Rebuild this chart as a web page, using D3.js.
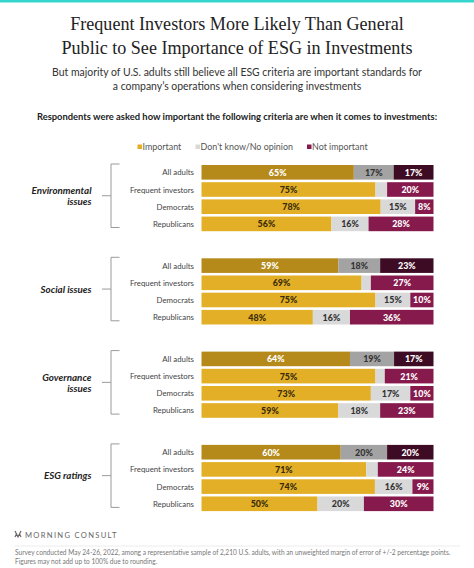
<!DOCTYPE html>
<html><head><meta charset="utf-8">
<script src="https://cdnjs.cloudflare.com/ajax/libs/d3/7.8.5/d3.min.js"></script>
<style>
html,body{margin:0;padding:0;background:#fff;}
svg{display:block;}
</style></head>
<body><div id="chart"></div>
<script>
const groups = ["Environmental issues", "Social issues", "Governance issues", "ESG ratings"];
const groupLines = [["Environmental", "issues"], ["Social issues"], ["Governance", "issues"], ["ESG ratings"]];
const respondents = ["All adults", "Frequent investors", "Democrats", "Republicans"];
const seriesNames = ["Important", "Don't know/No opinion", "Not important"];
const important  = [[65, 75, 78, 56], [59, 69, 75, 48], [64, 75, 73, 59], [60, 71, 74, 50]];
const dontKnow   = [[17, 5, 15, 16], [18, 4, 15, 16], [19, 4, 17, 18], [20, 5, 16, 20]];
const notImportant = [[17, 20, 8, 28], [23, 27, 10, 36], [17, 21, 10, 23], [20, 24, 9, 30]];

const W = 474, H = 568;
const sans = "Lato, 'Open Sans', sans-serif";
const svg = d3.select("#chart").append("svg").attr("width", W).attr("height", H);

svg.append("rect").attr("x", 0).attr("y", 0).attr("width", W).attr("height", 2.5).attr("fill", "#35d5cd");

function fitSize(fontFamily, weight, style, str, target) {
  const t = svg.append("text").attr("font-family", fontFamily).attr("font-weight", weight)
    .attr("font-style", style).attr("font-size", 20).text(str);
  const w = t.node().getComputedTextLength();
  t.remove();
  return 20 * target / w;
}

// Title
const titleSize = fitSize("'Liberation Serif', serif", 400, "normal", "Public to See Importance of ESG in Investments", 351);
svg.append("text").attr("x", W/2).attr("y", 30).attr("text-anchor", "middle")
  .attr("font-family", "'Liberation Serif', serif").attr("font-size", titleSize).attr("fill", "#222")
  .text("Frequent Investors More Likely Than General");
svg.append("text").attr("x", W/2).attr("y", 53.5).attr("text-anchor", "middle")
  .attr("font-family", "'Liberation Serif', serif").attr("font-size", titleSize).attr("fill", "#222")
  .text("Public to See Importance of ESG in Investments");

const subLine1 = "But majority of U.S. adults still believe all ESG criteria are important standards for";
const subSize = fitSize(sans, 400, "normal", subLine1, 370);
svg.append("text").attr("x", W/2).attr("y", 76).attr("text-anchor", "middle")
  .attr("font-family", sans).attr("font-size", subSize).attr("fill", "#333").text(subLine1);
svg.append("text").attr("x", W/2).attr("y", 89.5).attr("text-anchor", "middle")
  .attr("font-family", sans).attr("font-size", subSize).attr("fill", "#333")
  .text("a company\u2019s operations when considering investments");

const qText = "Respondents were asked how important the following criteria are when it comes to investments:";
svg.append("text").attr("x", W/2).attr("y", 119.5).attr("text-anchor", "middle")
  .attr("font-family", sans).attr("font-weight", 700).attr("font-size", fitSize(sans, 700, "normal", qText, 401))
  .attr("fill", "#222").text(qText);

// Legend
const legendColors = ["#e2af27", "#d9d9d9", "#861a4d"];
const legendX = [137.5, 195.5, 307];
const legendSize = fitSize(sans, 400, "normal", "Don't know/No opinion", 92.7);
seriesNames.forEach((n, i) => {
  svg.append("rect").attr("x", legendX[i]).attr("y", 144.5).attr("width", 4.5).attr("height", 4.5).attr("fill", legendColors[i]);
  svg.append("text").attr("x", legendX[i] + 5).attr("y", 150.3).attr("font-family", sans)
    .attr("font-size", legendSize).attr("fill", "#555").text(n);
});

// Scales
const x = d3.scaleLinear().domain([0, 100]).range([201.5, 433.5]);
const gy = d3.scaleBand().domain(groups).range([165, 165 + 4 * 93.3]);
const ry = d3.scaleBand().domain(respondents).range([0, 66.2]).paddingInner(0.15);

const fills = {
  all: ["#b58a1b", "#a3a3a3", "#3e0b25"],
  other: ["#e2af27", "#d9d9d9", "#861a4d"]
};
const textFills = {
  all: ["#fff", "#333", "#fff"],
  other: ["#3a2c08", "#333", "#fff"]
};

const rowSize = fitSize(sans, 400, "normal", "Frequent investors", 64);
const groupSize = fitSize(sans, 700, "italic", "Environmental", 60);
const valSize = fitSize(sans, 900, "normal", "65%", 17.7);

groups.forEach((g, gi) => {
  const y0 = gy(g);
  const gg = svg.append("g").attr("transform", `translate(0,${y0})`);
  const top = -1, bot = 62.5, mid = (top + bot) / 2;
  gg.append("path").attr("d", `M119.5,${top}H111V${bot}H119.5M111,${mid}H102`)
    .attr("fill", "none").attr("stroke", "#9a9a9a").attr("stroke-width", 1);
  const lines = groupLines[gi];
  lines.forEach((ln, li) => {
    const base = lines.length === 2 ? mid - 1.5 + li * 11 : mid + 3.5;
    gg.append("text").attr("x", 91.5).attr("y", base).attr("text-anchor", "end")
      .attr("font-family", sans).attr("font-weight", 700).attr("font-style", "italic")
      .attr("font-size", groupSize).attr("fill", "#222").text(ln);
  });
  respondents.forEach((r, ri) => {
    const vals = [important[gi][ri], dontKnow[gi][ri], notImportant[gi][ri]];
    const total = d3.sum(vals);
    const kind = ri === 0 ? "all" : "other";
    const yy = ry(r), bh = ry.bandwidth();
    gg.append("text").attr("x", 194).attr("y", yy + bh / 2 + 3).attr("text-anchor", "end")
      .attr("font-family", sans).attr("font-size", rowSize).attr("fill", "#444").text(r);
    let cum = 0;
    vals.forEach((v, si) => {
      const a = cum / total * 100, b = (cum + v) / total * 100;
      cum += v;
      gg.append("rect").attr("x", x(a)).attr("y", yy).attr("width", x(b) - x(a)).attr("height", bh)
        .attr("fill", fills[kind][si]);
      if (v >= 6) {
        gg.append("text").attr("x", (x(a) + x(b)) / 2).attr("y", yy + bh / 2 + 3.5)
          .attr("text-anchor", "middle").attr("font-family", sans).attr("font-weight", 900)
          .attr("font-size", valSize).attr("fill", textFills[kind][si]).text(v + "%");
      }
    });
  });
});

// Footer
const logo = svg.append("g").attr("transform", "translate(15,531)");
logo.append("path").attr("d", "M0,0 L3,6 L6,0 M0,6 L1.5,3 M6,6 L4.5,3").attr("fill", "none")
  .attr("stroke", "#666").attr("stroke-width", 1.2);
svg.append("text").attr("x", 25).attr("y", 537.5).attr("font-family", sans).attr("font-size", 7.6)
  .attr("letter-spacing", 1.3).attr("fill", "#666").text("MORNING CONSULT");
svg.append("line").attr("x1", 15).attr("x2", 460).attr("y1", 546).attr("y2", 546).attr("stroke", "#ececec");
const foot1 = "Survey conducted May 24-26, 2022, among a representative sample of 2,210 U.S. adults, with an unweighted margin of error of +/-2 percentage points.";
const footSize = fitSize(sans, 400, "normal", foot1, 436);
svg.append("text").attr("x", 15).attr("y", 555).attr("font-family", sans).attr("font-size", footSize)
  .attr("fill", "#777").text(foot1);
svg.append("text").attr("x", 15).attr("y", 564).attr("font-family", sans).attr("font-size", footSize)
  .attr("fill", "#777").text("Figures may not add up to 100% due to rounding.");
</script>
</body></html>
